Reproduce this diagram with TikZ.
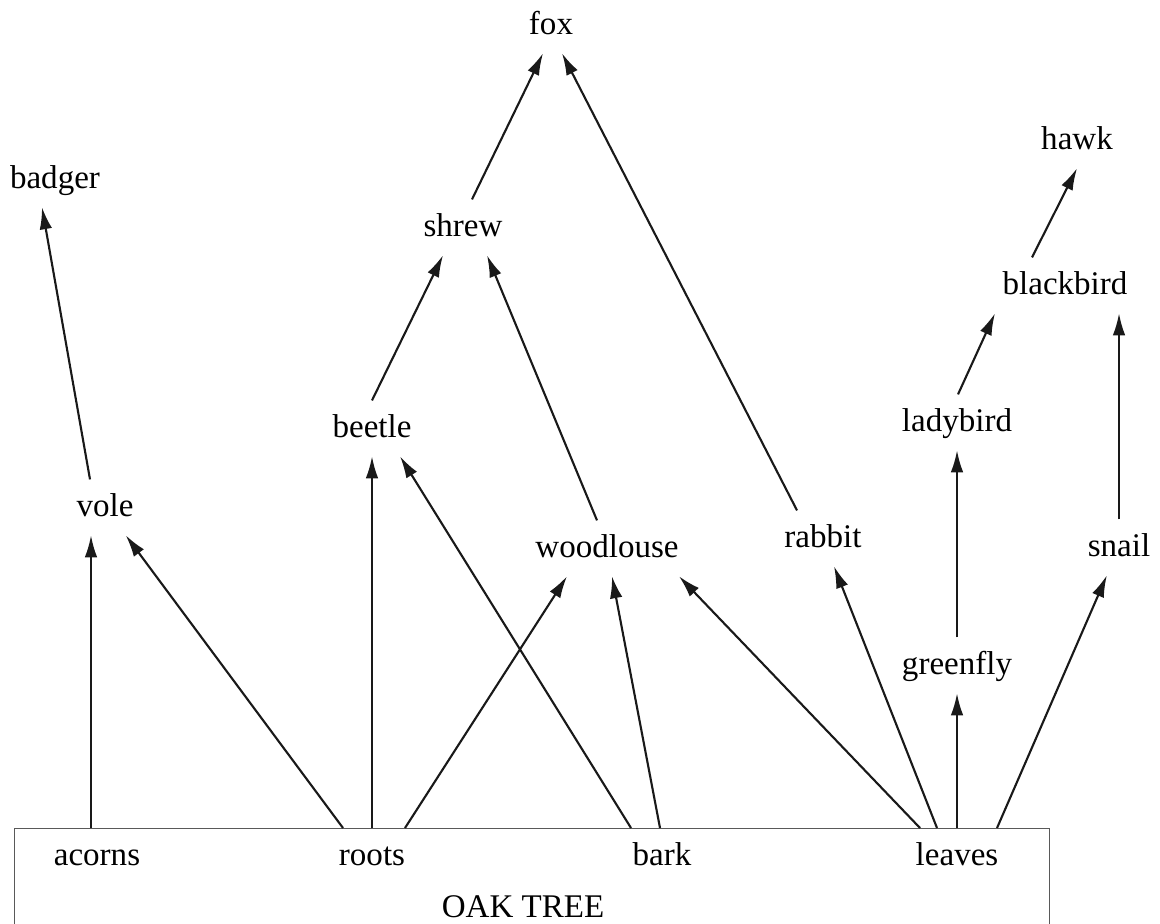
\documentclass[tikz,border=0pt]{standalone}
\usepackage{fontspec}
\setmainfont{Liberation Serif}
\usetikzlibrary{arrows.meta,calc}

\begin{document}
\begin{tikzpicture}[x=0.1mm,y=-0.1mm,>={Latex[length=2.2mm,width=1.25mm]},
  sp/.style={anchor=base,font=\fontsize{9.4}{11}\selectfont,text height=5.5pt,text depth=0pt,inner xsep=1pt,inner ysep=5pt},
  feed/.style={->,line width=0.6pt,black!90}]

\useasboundingbox (0,0) rectangle (1160,924);

% the tree
\path
(14,828) node[draw,gray!70!black,line width=0.4pt,anchor=north west,minimum width=103.5mm,minimum height=12mm,inner sep=0pt] (oak) {}
(97,865)  node[sp] (acorns) {acorns}
(372,865) node[sp] (roots) {roots}
(662,865) node[sp] (bark) {bark}
(957,865) node[sp] (leaves) {leaves}
(523,917) node[sp] (oaklabel) {OAK TREE}
;

% the animals
\path
(551,35)   node[sp] (fox) {fox}
(55,189)   node[sp] (badger) {badger}
(1077,150) node[sp] (hawk) {hawk}
(463,237)  node[sp] (shrew) {shrew}
(1065,295) node[sp] (blackbird) {blackbird}
(957,432)  node[sp] (ladybird) {ladybird}
(372,438)  node[sp] (beetle) {beetle}
(105,517)  node[sp] (vole) {vole}
(607,558)  node[sp] (woodlouse) {woodlouse}
(823,548)  node[sp] (rabbit) {rabbit}
(1119,557) node[sp] (snail) {snail}
(957,675)  node[sp] (greenfly) {greenfly}
;

% oak tree -> plant eaters
\draw[feed] ($(acorns |- oak.north)+(-6,0)$) -- ($(vole.south)+(-14,0)$);
\draw[feed] ($(roots |- oak.north)+(-29,0)$) -- (vole);
\draw[feed] (roots |- oak.north) -- (beetle.south);
\draw[feed] ($(roots |- oak.north)+(33,0)$) -- ($(woodlouse.south)+(-40,0)$);
\draw[feed] ($(bark |- oak.north)+(-31,0)$) -- ($(beetle.south)+(28,0)$);
\draw[feed] ($(bark |- oak.north)+(-2,0)$) -- ($(woodlouse.south)+(5,0)$);
\draw[feed] ($(leaves |- oak.north)+(-37,0)$) -- ($(woodlouse.south)+(72,0)$);
\draw[feed] ($(leaves |- oak.north)+(-20,0)$) -- (rabbit);
\draw[feed] (leaves |- oak.north) -- (greenfly.south);
\draw[feed] ($(leaves |- oak.north)+(40,0)$) -- (snail);

% up the chain
\draw[feed] (greenfly) -- (ladybird);
\draw[feed] ($(ladybird.north)+(1,0)$) -- ($(blackbird.south)+(-70,0)$);
\draw[feed] (snail) -- (snail |- blackbird.south);
\draw[feed] ($(blackbird.north)+(-33,0)$) -- (hawk.south);
\draw[feed] (beetle.north) -- ($(shrew.south)+(-20,0)$);
\draw[feed] ($(woodlouse.north)+(-10,0)$) -- ($(shrew.south)+(24,0)$);
\draw[feed] ($(shrew.north)+(9,0)$) -- ($(fox.south)+(-8,0)$);
\draw[feed] ($(rabbit.north)+(-26,0)$) -- ($(fox.south)+(11,0)$);
\draw[feed] ($(vole.north)+(-15,0)$) -- ($(badger.south)+(-13,0)$);

\end{tikzpicture}
\end{document}
